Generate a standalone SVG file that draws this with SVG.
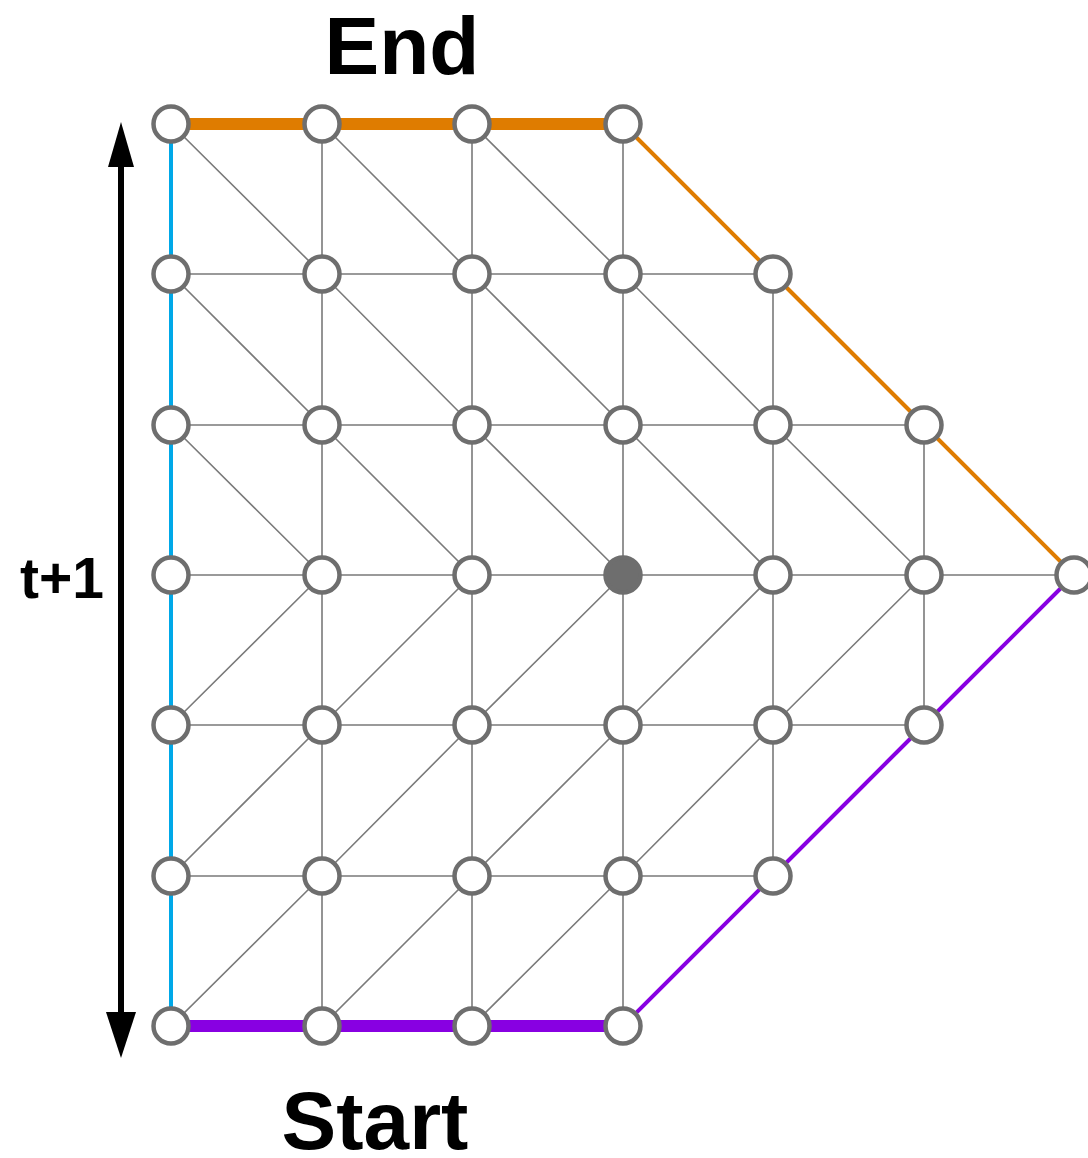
<svg xmlns="http://www.w3.org/2000/svg" width="1088" height="1158" viewBox="0 0 1088 1158">
<style>
.n{fill:#ffffff;stroke:#6e6e6e;stroke-width:4.5}
.f{fill:#6e6e6e;stroke:#6e6e6e;stroke-width:4.5}
.g{fill:none;stroke:#7a7a7a;stroke-width:1.6}
.blue{fill:none;stroke:#00a8e8;stroke-width:4}
.oT{fill:none;stroke:#df7c00;stroke-width:12}
.oD{fill:none;stroke:#df7c00;stroke-width:4}
.pT{fill:none;stroke:#8800e2;stroke-width:12}
.pD{fill:none;stroke:#8800e2;stroke-width:4}
.t{font-family:"Liberation Sans",Arial,sans-serif;font-weight:bold;fill:#000;text-anchor:middle}
</style>
<rect width="1088" height="1158" fill="#ffffff"/>
<g id="axis">
<line x1="121" y1="160" x2="121" y2="1018" stroke="#000" stroke-width="6"/>
<polygon points="121,122 108,167 134,167" fill="#000"/>
<polygon points="121,1058 106,1012 136,1012" fill="#000"/>
</g>
<g id="connectors">
<path class="g" d="M171 274H322M322 274H472M472 274H623M623 274H773
M171 425H322M322 425H472M472 425H623M623 425H773M773 425H924
M171 575H322M322 575H472M472 575H623M623 575H773M773 575H924M924 575H1074
M171 725H322M322 725H472M472 725H623M623 725H773M773 725H924
M171 876H322M322 876H472M472 876H623M623 876H773"/>
<path class="g" d="M322 124V1026M472 124V1026M623 124V1026M773 274V876M924 425V725"/>
<path class="g" d="M171 124L322 274M322 124L472 274M472 124L623 274
M171 274L322 425M322 274L472 425M472 274L623 425M623 274L773 425
M171 425L322 575M322 425L472 575M472 425L623 575M623 425L773 575M773 425L924 575
M322 575L171 725M472 575L322 725M623 575L472 725M773 575L623 725M924 575L773 725
M322 725L171 876M472 725L322 876M623 725L472 876M773 725L623 876
M322 876L171 1026M472 876L322 1026M623 876L472 1026"/>
<path class="blue" d="M171 124V1026"/>
<path class="oT" d="M171 124H623"/>
<path class="oD" d="M623 124L773 274L924 425L1074 575"/>
<path class="pT" d="M171 1026H623"/>
<path class="pD" d="M1074 575L924 725L773 876L623 1026"/>
</g>
<g id="n00"><circle class="n" cx="171" cy="124" r="17.5"/></g>
<g id="n01"><circle class="n" cx="322" cy="124" r="17.5"/></g>
<g id="n02"><circle class="n" cx="472" cy="124" r="17.5"/></g>
<g id="n03"><circle class="n" cx="623" cy="124" r="17.5"/></g>
<g id="n10"><circle class="n" cx="171" cy="274" r="17.5"/></g>
<g id="n11"><circle class="n" cx="322" cy="274" r="17.5"/></g>
<g id="n12"><circle class="n" cx="472" cy="274" r="17.5"/></g>
<g id="n13"><circle class="n" cx="623" cy="274" r="17.5"/></g>
<g id="n14"><circle class="n" cx="773" cy="274" r="17.5"/></g>
<g id="n20"><circle class="n" cx="171" cy="425" r="17.5"/></g>
<g id="n21"><circle class="n" cx="322" cy="425" r="17.5"/></g>
<g id="n22"><circle class="n" cx="472" cy="425" r="17.5"/></g>
<g id="n23"><circle class="n" cx="623" cy="425" r="17.5"/></g>
<g id="n24"><circle class="n" cx="773" cy="425" r="17.5"/></g>
<g id="n25"><circle class="n" cx="924" cy="425" r="17.5"/></g>
<g id="n30"><circle class="n" cx="171" cy="575" r="17.5"/></g>
<g id="n31"><circle class="n" cx="322" cy="575" r="17.5"/></g>
<g id="n32"><circle class="n" cx="472" cy="575" r="17.5"/></g>
<g id="n33"><circle class="f" cx="623" cy="575" r="17.5"/></g>
<g id="n34"><circle class="n" cx="773" cy="575" r="17.5"/></g>
<g id="n35"><circle class="n" cx="924" cy="575" r="17.5"/></g>
<g id="n36"><circle class="n" cx="1074" cy="575" r="17.5"/></g>
<g id="n40"><circle class="n" cx="171" cy="725" r="17.5"/></g>
<g id="n41"><circle class="n" cx="322" cy="725" r="17.5"/></g>
<g id="n42"><circle class="n" cx="472" cy="725" r="17.5"/></g>
<g id="n43"><circle class="n" cx="623" cy="725" r="17.5"/></g>
<g id="n44"><circle class="n" cx="773" cy="725" r="17.5"/></g>
<g id="n45"><circle class="n" cx="924" cy="725" r="17.5"/></g>
<g id="n50"><circle class="n" cx="171" cy="876" r="17.5"/></g>
<g id="n51"><circle class="n" cx="322" cy="876" r="17.5"/></g>
<g id="n52"><circle class="n" cx="472" cy="876" r="17.5"/></g>
<g id="n53"><circle class="n" cx="623" cy="876" r="17.5"/></g>
<g id="n54"><circle class="n" cx="773" cy="876" r="17.5"/></g>
<g id="n60"><circle class="n" cx="171" cy="1026" r="17.5"/></g>
<g id="n61"><circle class="n" cx="322" cy="1026" r="17.5"/></g>
<g id="n62"><circle class="n" cx="472" cy="1026" r="17.5"/></g>
<g id="n63"><circle class="n" cx="623" cy="1026" r="17.5"/></g>
<g id="labels">
<text class="t" x="402" y="74" font-size="82">End</text>
<text class="t" x="375" y="1149" font-size="82">Start</text>
<text class="t" x="62" y="598" font-size="57">t+1</text>
</g>
</svg>
